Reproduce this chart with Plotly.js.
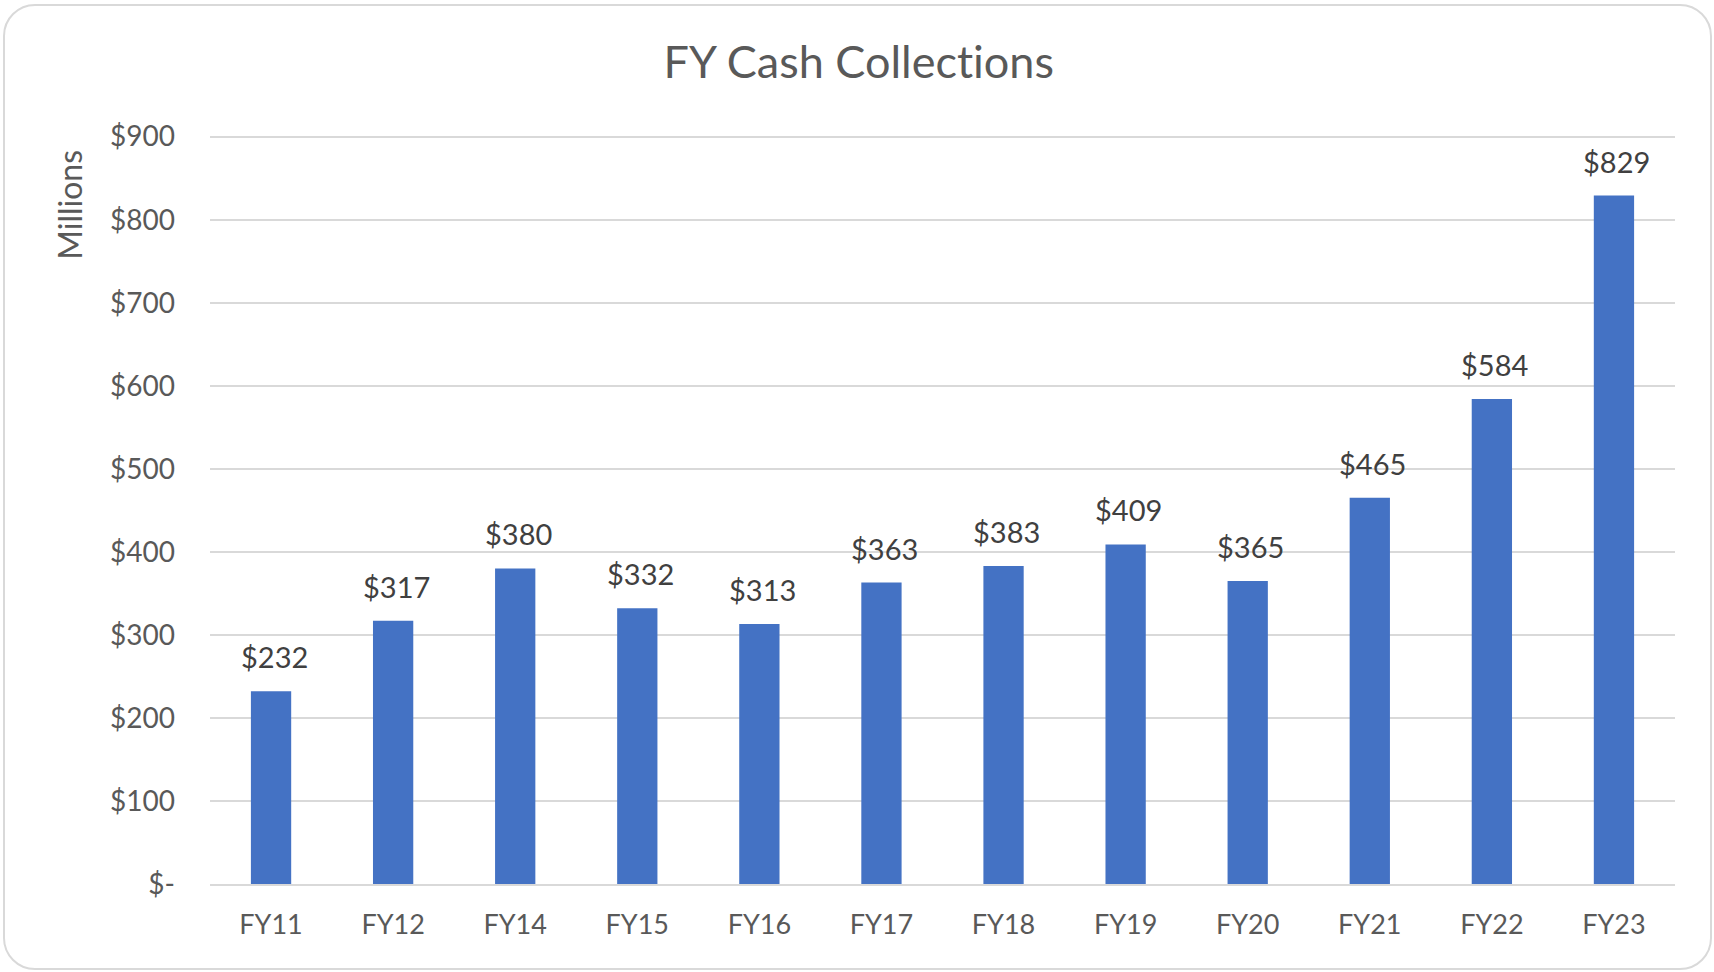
<!DOCTYPE html>
<html>
<head>
<meta charset="utf-8">
<script src="https://cdn.plot.ly/plotly-3.0.1.min.js"></script>
<style>
  html, body { margin: 0; padding: 0; background: #ffffff; }
  #wrap { position: relative; width: 1714px; height: 972px; overflow: hidden; }
  #chart { position: absolute; left: 0; top: 0; width: 1714px; height: 972px; }
  #chart text { font-variant-ligatures: none; font-feature-settings: "liga" 0, "dlig" 0; }
  #frame { position: absolute; left: 3px; top: 4px; width: 1705px; height: 962px;
           border: 2px solid #d9d9d9; border-radius: 32px; pointer-events: none; }
</style>
</head>
<body>
<div id="wrap">
  <div id="chart"></div>
  <div id="frame"></div>
</div>
<script>
const categories = ["FY11", "FY12", "FY14", "FY15", "FY16", "FY17", "FY18", "FY19", "FY20", "FY21", "FY22", "FY23"];
const collections = [232, 317, 380, 332, 313, 363, 383, 409, 365, 465, 584, 829];
const dataLabels = ["$232", "$317", "$380", "$332", "$313", "$363", "$383", "$409", "$365", "$465", "$584", "$829"];
const yTickVals = [0, 100, 200, 300, 400, 500, 600, 700, 800, 900];
const yTickText = ["$-", "$100", "$200", "$300", "$400", "$500", "$600", "$700", "$800", "$900"];

const FONT = "Lato, 'Open Sans', 'Noto Sans', sans-serif";

const trace = {
  type: "bar",
  x: categories,
  y: collections,
  marker: { color: "#4472C4", line: { width: 0 } },
  hoverinfo: "skip"
};

const annotations = categories.map((c, i) => ({
  x: c,
  y: collections[i],
  xref: "x",
  yref: "y",
  text: dataLabels[i],
  showarrow: false,
  yanchor: "bottom",
  xanchor: "center",
  xshift: 3,
  yshift: 15,
  font: { family: FONT, size: 29, color: "#404040" }
}));

annotations.push({
  text: "Millions",
  xref: "paper",
  yref: "paper",
  x: -0.0955,
  y: 0.907,
  xanchor: "center",
  yanchor: "middle",
  textangle: -90,
  showarrow: false,
  font: { family: FONT, size: 32, color: "#595959" }
});

const layout = {
  width: 1714,
  height: 972,
  margin: { l: 210, r: 39, t: 134.8, b: 87.7, pad: 0 },
  paper_bgcolor: "#ffffff",
  plot_bgcolor: "#ffffff",
  showlegend: false,
  bargap: 0.67,
  title: {
    text: "FY Cash Collections",
    x: 0.501,
    xref: "container",
    xanchor: "center",
    y: 0.936,
    yref: "container",
    yanchor: "middle",
    font: { family: FONT, size: 45, color: "#595959" }
  },
  xaxis: {
    type: "category",
    showgrid: false,
    showline: true,
    linecolor: "#d9d9d9",
    linewidth: 2,
    ticks: "",
    ticklabelstandoff: 16,
    tickfont: { family: FONT, size: 27, color: "#595959" },
    fixedrange: true
  },
  yaxis: {
    range: [0, 902],
    tickvals: yTickVals,
    ticktext: yTickText,
    showgrid: true,
    gridcolor: "#d9d9d9",
    gridwidth: 2,
    zeroline: false,
    showline: false,
    ticks: "",
    ticklabelstandoff: 34,
    tickfont: { family: FONT, size: 28, color: "#595959" },
    fixedrange: true
  },
  annotations: annotations
};

Plotly.newPlot("chart", [trace], layout, { staticPlot: true, displayModeBar: false });
</script>
</body>
</html>
